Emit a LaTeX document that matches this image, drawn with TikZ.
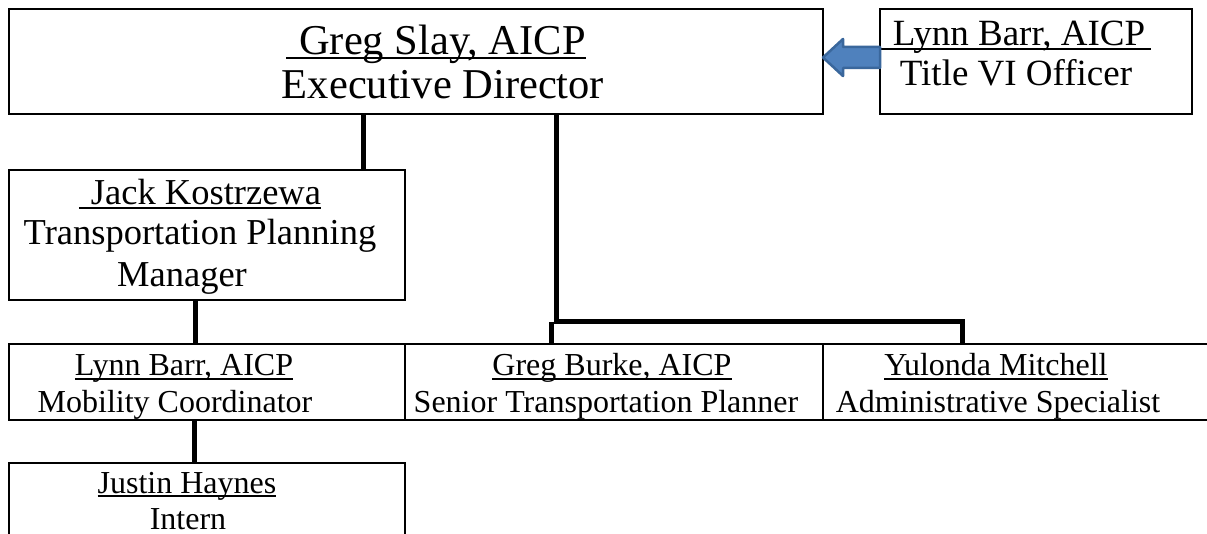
\documentclass[tikz,border=0pt]{standalone}
\usepackage{fontspec}
\setmainfont{Liberation Serif}
\usetikzlibrary{calc}
\definecolor{arrowfill}{HTML}{4F81BD}
\definecolor{arrowline}{HTML}{3A679C}
\newcommand\myul[1]{\setbox0=\hbox{#1}\rlap{\rule[-4pt]{\wd0}{1.8pt}}\box0}
\tikzset{
  box/.style={draw, line width=2pt, rectangle, inner sep=0pt, outer sep=0pt},
  conn/.style={line width=5pt},
  txt/.style={anchor=base, inner sep=0pt, outer sep=0pt},
  fontA/.style={font=\fontsize{42.5}{48}\selectfont},
  fontB/.style={font=\fontsize{37}{42}\selectfont},
  fontC/.style={font=\fontsize{36.5}{41}\selectfont},
  fontD/.style={font=\fontsize{32}{37}\selectfont},
}
\begin{document}
\begin{tikzpicture}[x=1pt, y=-1pt]
\useasboundingbox (0,0) rectangle (1207,534);
\clip (0,0) rectangle (1207,534);
\fill[white] (0,0) rectangle (1207,534);

% boxes
\node[box, minimum width=814pt, minimum height=105pt] (top) at (416,61.5) {};
\node[box, minimum width=312pt, minimum height=105pt] (title) at (1036,61.5) {};
\node[box, minimum width=396pt, minimum height=130pt] (jack) at (207,235) {};
\node[box, minimum width=396pt, minimum height=76pt] (lynn) at (207,382) {};
\node[box, minimum width=418pt, minimum height=76pt] (burke) at (614,382) {};
\node[box, minimum width=407pt, minimum height=76pt] (yul) at (1026.5,382) {};
\node[box, minimum width=396pt, minimum height=82pt] (justin) at (207,504) {};

% texts
\node[txt, fontA] (t1) at (436,55) {\myul{\kern13pt Greg Slay, AICP}};
\node[txt, fontA] (t2) at (443,99) {Executive Director};
\node[txt, fontB] (t3) at (1016,46) {\myul{\kern12pt Lynn Barr, AICP\kern6pt}};
\node[txt, fontB] (t4) at (1016,86) {Title VI Officer};
\node[txt, fontC] (t5) at (200,205) {\myul{\kern12pt Jack Kostrzewa}};
\node[txt, fontC] (t6) at (200,245) {Transportation Planning};
\node[txt, fontC] (t7) at (182,287) {Manager};
\node[txt, fontD] (t8) at (184,376) {\myul{Lynn Barr, AICP}};
\node[txt, fontD] (t9) at (175,412) {Mobility Coordinator};
\node[txt, fontD] (t10) at (612,376) {\myul{Greg Burke, AICP}};
\node[txt, fontD] (t11) at (606,412) {Senior Transportation Planner};
\node[txt, fontD] (t12) at (996,376) {\myul{Yulonda Mitchell}};
\node[txt, fontD] (t13) at (998,412) {Administrative Specialist};
\node[txt, fontD] (t14) at (187,493) {\myul{Justin Haynes}};
\node[txt, fontD] (t15) at (188,529) {Intern};

% connectors
\coordinate (bus) at (0,322);
\draw[conn] (363,0 |- top.south) -- (363,0 |- jack.north);
\draw[conn] (195,0 |- jack.south) -- (195,0 |- lynn.north);
\draw[conn] (194,0 |- lynn.south) -- (194,0 |- justin.north);
\draw[conn, line join=miter] (556,0 |- top.south) -- (556,0 |- bus) -- (962,0 |- bus) -- (962,0 |- yul.north);
\draw[conn] (551,0 |- bus) -- (551,0 |- burke.north);

% block arrow from Title VI officer to executive director
\coordinate (tip) at ($(top.east)+(0,-4)$);
\draw[line width=2.5pt, draw=arrowline, fill=arrowfill, line join=round]
  ($(title.west)+(0,-14.5)$) -- ($(tip)+(20,-10.5)$) -- ($(tip)+(20,-18.5)$)
  -- (tip) -- ($(tip)+(20,18.5)$) -- ($(tip)+(20,10.5)$)
  -- ($(title.west)+(0,6.5)$) -- cycle;
\end{tikzpicture}
\end{document}
